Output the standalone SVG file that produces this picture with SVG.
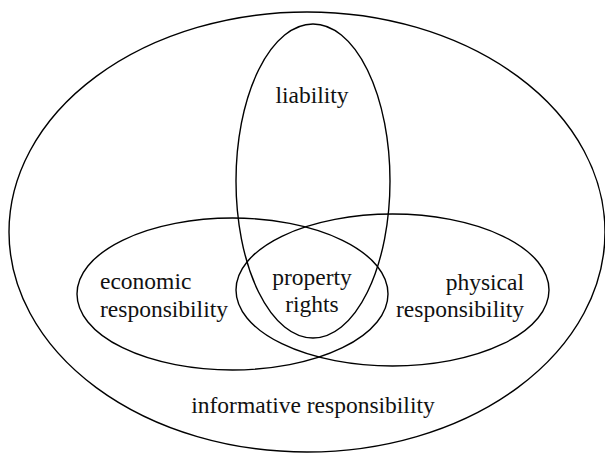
<svg xmlns="http://www.w3.org/2000/svg" width="605" height="453" viewBox="0 0 605 453">
<style>
.set{fill:none;stroke:#000;stroke-width:1.4}
.t{font-family:'Liberation Serif','Times New Roman','DejaVu Serif',serif;font-size:23.5px;fill:#111}
.m{text-anchor:middle}
.e{text-anchor:end}
</style>
<rect width="605" height="453" fill="#fff"/>
<g id="informative">
<ellipse class="set" cx="307" cy="232" rx="298" ry="220"/>
<text class="t m" font-family="Liberation Serif, serif" x="313" y="413">informative responsibility</text>
</g>
<g id="liability">
<ellipse class="set" cx="313" cy="181" rx="77" ry="157"/>
<text class="t m" font-family="Liberation Serif, serif" x="312" y="103">liability</text>
</g>
<g id="economic">
<ellipse class="set" cx="232.5" cy="294" rx="155.5" ry="76"/>
<text class="t" font-family="Liberation Serif, serif" x="100" y="289">economic</text>
<text class="t" font-family="Liberation Serif, serif" x="100" y="317">responsibility</text>
</g>
<g id="physical">
<ellipse class="set" cx="392.5" cy="290" rx="156.5" ry="76"/>
<text class="t e" font-family="Liberation Serif, serif" x="524" y="290">physical</text>
<text class="t e" font-family="Liberation Serif, serif" x="524" y="317">responsibility</text>
</g>
<g id="property">
<text class="t m" font-family="Liberation Serif, serif" x="312" y="285">property</text>
<text class="t m" font-family="Liberation Serif, serif" x="312" y="312">rights</text>
</g>
<g id="connectors"></g>
</svg>
